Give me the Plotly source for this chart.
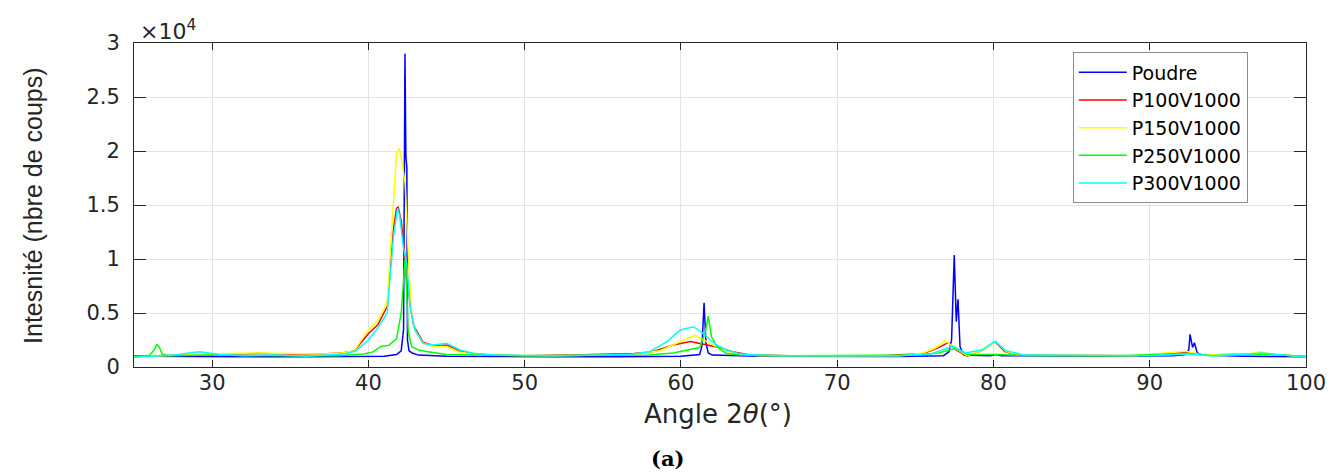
import plotly.graph_objects as go

# ---------------- data ----------------
series_names = ["Poudre", "P100V1000", "P150V1000", "P250V1000", "P300V1000"]

poudre_x = [25, 27, 30, 33, 36, 39, 41.0, 41.8, 42.1, 42.25, 42.34, 42.40, 42.46, 42.50, 42.6, 42.8, 43.2,
            45, 48, 52, 56, 60, 61.2, 61.35, 61.48, 61.6, 61.75, 62.0, 65, 70, 74, 76.8, 77.15, 77.32,
            77.49, 77.62, 77.73, 77.86, 78.1, 79.8, 80.15, 80.5, 84, 88, 91.5, 92.3, 92.5, 92.58, 92.74,
            92.86, 93.04, 93.4, 96, 100]
poudre_y = [1000, 980, 1000, 950, 960, 950, 1000, 1150, 1500, 3500, 29000, 19500, 18500, 2500, 1500, 1300, 1100,
            1000, 950, 950, 960, 1000, 1150, 2000, 5950, 2200, 1300, 1100, 1000, 1000, 980, 1050, 1400, 2500,
            10370, 4200, 6270, 1880, 1100, 1050, 1150, 1050, 1000, 1000, 1050, 1150, 1600, 3030, 1810,
            2250, 1300, 1100, 1000, 950]

p100_x = [25, 27, 29, 31, 33, 35, 37, 38.3, 39.1, 40.0, 40.6, 41.2, 41.6, 41.8, 41.91, 42.1, 42.3, 42.5,
          42.7, 42.9, 43.5, 44.2, 45.0, 45.8, 46.8, 48, 50, 53, 55, 57, 58.2, 59.5, 60.6, 61.2, 61.6, 62.3,
          63.3, 64.5, 67, 70, 73, 75.5, 76.4, 77.1, 77.64, 78.3, 79.35, 80.1, 80.73, 81.5, 85, 89, 92.3,
          93.5, 96.3, 97.1, 98, 100]
p100_y = [1000, 1050, 1150, 1200, 1250, 1200, 1200, 1300, 1480, 3100, 3900, 5600, 12700, 14700, 14800, 13500,
          10800, 8000, 5500, 3800, 2300, 1950, 2040, 1500, 1200, 1100, 1050, 1100, 1200, 1250, 1420, 2040,
          2350, 2200, 2040, 1860, 1420, 1100, 1050, 1050, 1050, 1260, 1730, 2250, 1570, 1000, 1570, 2350,
          1420, 1100, 1050, 1050, 1350, 1100, 1200, 1300, 1150, 950]

p150_x = [25, 27, 29, 31, 33, 35, 37, 38.3, 39.1, 39.9, 40.6, 41.2, 41.6, 41.8, 41.98, 42.15, 42.35, 42.5,
          42.6, 42.77, 42.98, 43.5, 44.2, 45.0, 45.8, 46.8, 48, 52, 55, 57, 58.66, 59.7, 60.9, 61.86, 62.5,
          63.35, 65, 70, 74, 75.5, 76.3, 76.9, 77.6, 78.3, 79.4, 80.15, 80.8, 81.6, 85, 89, 92.3, 93.5,
          96.3, 97.0, 98, 100]
p150_y = [950, 1050, 1200, 1250, 1300, 1250, 1200, 1300, 1500, 3270, 4300, 5900, 15770, 19800, 20250, 19000,
          17000, 12000, 9000, 5000, 3400, 2200, 1900, 1900, 1400, 1150, 1100, 1050, 1100, 1150, 1500, 2190,
          2960, 2190, 1700, 1230, 1050, 1050, 1050, 1300, 1750, 2440, 1700, 1050, 1600, 2350, 1450, 1100,
          1050, 1050, 1450, 1100, 1200, 1400, 1150, 950]

p250_x = [25, 25.6, 26.0, 26.3, 26.45, 26.6, 26.8, 27.2, 30, 35, 38, 39.7, 40.3, 40.8, 41.3, 41.8, 42.1,
          42.25, 42.34, 42.45, 42.55, 42.77, 43.2, 43.8, 45, 50, 55, 58, 59.5, 60.5, 61.2, 61.55, 61.75,
          61.96, 62.3, 62.9, 63.8, 67, 72, 75, 76.5, 77.6, 78.3, 80.1, 83, 88, 92.4, 94, 97, 100]
p250_y = [900, 1000, 1100, 1600, 2060, 1900, 1200, 1050, 1100, 1050, 1050, 1200, 1400, 1900, 2000, 2600, 5000,
          8000, 9900, 7000, 3270, 1880, 1570, 1420, 1150, 1050, 1050, 1100, 1300, 1600, 1800, 3200, 4720,
          2800, 1880, 1250, 1100, 1050, 1050, 1100, 1300, 1730, 1150, 1150, 1050, 1050, 1250, 1050, 1200, 1000]

p300_x = [25, 26, 27.5, 28.5, 29.2, 29.8, 30.5, 32, 34, 36, 37.5, 38.5, 39.2, 40.0, 40.6, 41.2, 41.6, 41.87,
          42.0, 42.23, 42.45, 42.66, 42.98, 43.5, 44.15, 45.0, 45.86, 46.7, 48, 52, 55, 56.95, 58.0, 59.1,
          59.96, 60.8, 61.43, 61.86, 62.28, 62.92, 63.77, 66, 70, 74, 76, 77.4, 78.2, 79.3, 80.1, 80.8, 82,
          86, 90, 92.4, 94, 96.5, 97.2, 98.5, 100]
p300_y = [900, 1000, 1100, 1300, 1420, 1300, 1150, 1050, 1100, 1000, 1100, 1200, 1500, 2500, 3600, 5000, 12000,
          14700, 14000, 11140, 9600, 5600, 3430, 2190, 2040, 2190, 1570, 1270, 1100, 1050, 1100, 1200, 1420,
          2350, 3430, 3730, 3120, 2500, 2040, 1570, 1200, 1050, 1050, 1050, 1200, 1940, 1300, 1600, 2400,
          1500, 1100, 1050, 1050, 1200, 1050, 1200, 1300, 1100, 950]

series_colors = ["#0000ff", "#ff0000", "#ffff00", "#00ff00", "#00ffff"]

y_tickvals = [0, 5000, 10000, 15000, 20000, 25000, 30000]
y_ticktext = ["0", "0.5", "1", "1.5", "2", "2.5", "3"]
x_tickvals = [30, 40, 50, 60, 70, 80, 90, 100]

xs = [poudre_x, p100_x, p150_x, p250_x, p300_x]
ys = [poudre_y, p100_y, p150_y, p250_y, p300_y]

# ---------------- figure ----------------
fig = go.Figure()
for name, x, y, c in zip(series_names, xs, ys, series_colors):
    fig.add_trace(go.Scatter(x=x, y=y, mode="lines", name=name,
                             line=dict(color=c, width=1.5)))

axis_common = dict(
    showline=True, linecolor="#262626", linewidth=1, mirror="allticks",
    ticks="inside", tickcolor="#262626", showgrid=True, gridcolor="#e3e3e3",
    gridwidth=1, zeroline=False,
    tickfont=dict(family="DejaVu Sans", size=21, color="#262626"),
)

fig.update_xaxes(range=[25, 100], tickvals=x_tickvals, ticklen=7, ticklabelstandoff=-3,
                 **axis_common)
fig.update_yaxes(range=[0, 30000], tickvals=y_tickvals, ticktext=y_ticktext, ticklen=12,
                 ticklabelstandoff=9, **axis_common)

# the page body has an 8px margin, so the figure is 8px smaller and margins shifted
fig.update_layout(
    width=1330, height=467,
    margin=dict(l=126, r=32, t=35, b=108),
    paper_bgcolor="white", plot_bgcolor="white",
    showlegend=True,
    legend=dict(x=0.801, y=0.971, xanchor="left", yanchor="top",
                bgcolor="white", bordercolor="#8c8c8c", borderwidth=1,
                font=dict(family="DejaVu Sans", size=19, color="black"),
                itemwidth=48, tracegroupgap=0),
    annotations=[
        dict(text="Intesnité (nbre de coups)", xref="paper", yref="paper",
             x=-0.0862, y=0.5, xanchor="center", yanchor="middle", textangle=-90,
             showarrow=False,
             font=dict(family="Liberation Sans", size=25, color="#262626")),
        dict(text="Angle 2<i>θ</i>(°)", xref="paper", yref="paper",
             x=0.498, y=-0.145, xanchor="center", yanchor="middle", showarrow=False,
             font=dict(family="DejaVu Sans", size=26, color="#262626")),
        dict(text="×10<sup>4</sup>", xref="paper", yref="paper",
             x=0.003, y=1.04, xanchor="left", yanchor="middle", showarrow=False,
             font=dict(family="DejaVu Sans", size=22, color="#262626")),
        dict(text="<b>(a)</b>", xref="paper", yref="paper",
             x=0.4556, y=-0.281, xanchor="center", yanchor="middle", showarrow=False,
             font=dict(family="DejaVu Serif", size=21, color="black")),
    ],
)

fig.write_html("out.html")
